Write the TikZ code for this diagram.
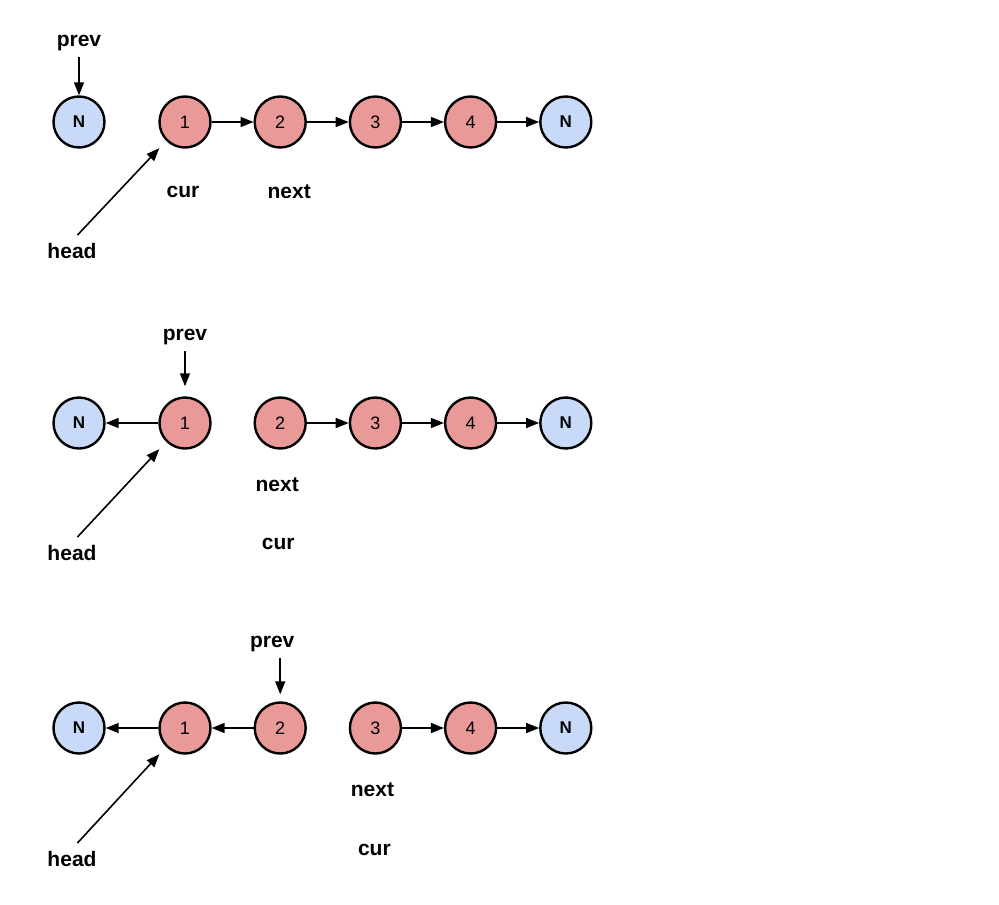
\documentclass[tikz,border=0pt]{standalone}
\usepackage{fontspec}
\setsansfont{Liberation Sans}
\usetikzlibrary{arrows.meta, positioning}

\definecolor{listred}{HTML}{EA9999}
\definecolor{nullblue}{HTML}{C9DAF8}

\begin{document}
\begin{tikzpicture}[
    x=0.5pt, y=-0.5pt,
    node distance=20.9pt,
    font=\sffamily,
    listnode/.style={circle, draw, line width=1.2pt, fill=listred, minimum size=25.5pt, inner sep=0pt, font=\sffamily\fontsize{9}{11}\selectfont},
    nullnode/.style={listnode, fill=nullblue, font=\sffamily\bfseries\fontsize{8.5}{10}\selectfont},
    lbl/.style={font=\sffamily\bfseries\fontsize{10.5}{12}\selectfont, inner sep=1pt},
    arrow/.style={-{Triangle[length=6.5pt, width=5pt]}, line width=0.8pt},
    ptr/.style={arrow, shorten <=2pt}
]
\useasboundingbox (0,0) rectangle (999,904);

% Step 0: initial list
\node (nullA) [nullnode] at (79,122) {N};
\node (a1) [listnode] at (185,122) {1};
\node (a2) [listnode, right=of a1] {2};
\node (a3) [listnode, right=of a2] {3};
\node (a4) [listnode, right=of a3] {4};
\node (nullB) [nullnode, right=of a4] {N};

\draw [arrow] (a1) -- (a2);
\draw [arrow] (a2) -- (a3);
\draw [arrow] (a3) -- (a4);
\draw [arrow] (a4) -- (nullB);

\node (prevA) [lbl] at (79,43) {prev};
\node (headA) [lbl] at (72,251) {head};
\node (curA) [lbl] at ([xshift=-1pt, yshift=-35pt]a1) {cur};
\node (nextA) [lbl] at ([xshift=4.5pt, yshift=-35pt]a2) {next};

\draw [ptr] (prevA) -- (nullA);
\draw [ptr, shorten <=4pt, shorten >=5pt] (headA.north) -- (a1.south west);

% Step 1: reverse first link
\node (nullC) [nullnode] at (79,423) {N};
\node (b1) [listnode] at (185,423) {1};
\node (b2) [listnode, right=of b1] {2};
\node (b3) [listnode, right=of b2] {3};
\node (b4) [listnode, right=of b3] {4};
\node (nullD) [nullnode, right=of b4] {N};

\draw [arrow] (b1) -- (nullC);
\draw [arrow] (b2) -- (b3);
\draw [arrow] (b3) -- (b4);
\draw [arrow] (b4) -- (nullD);

\node (prevB) [lbl] at ([yshift=43pt]b1) {prev};
\node (headB) [lbl] at (72,553) {head};
\node (nextB) [lbl] at ([xshift=-1.5pt, yshift=-31pt]b2) {next};
\node (curB) [lbl] at ([xshift=-1pt, yshift=-60.5pt]b2) {cur};

\draw [ptr, shorten >=5pt] (prevB) -- (b1);
\draw [ptr, shorten <=4pt, shorten >=5pt] (headB.north) -- (b1.south west);

% Step 2: reverse second link
\node (nullE) [nullnode] at (79,728) {N};
\node (c1) [listnode] at (185,728) {1};
\node (c2) [listnode, right=of c1] {2};
\node (c3) [listnode, right=of c2] {3};
\node (c4) [listnode, right=of c3] {4};
\node (nullF) [nullnode, right=of c4] {N};

\draw [arrow] (c1) -- (nullE);
\draw [arrow] (c2) -- (c1);
\draw [arrow] (c3) -- (c4);
\draw [arrow] (c4) -- (nullF);

\node (prevC) [lbl] at ([xshift=-4pt, yshift=42pt]c2) {prev};
\node (headC) [lbl] at (72,859) {head};
\node (nextC) [lbl] at ([xshift=-1.5pt, yshift=-31pt]c3) {next};
\node (curC) [lbl] at ([xshift=-0.5pt, yshift=-61pt]c3) {cur};

\draw [ptr, shorten >=3.5pt] (c2 |- prevC.south) -- (c2);
\draw [ptr, shorten <=4pt, shorten >=5pt] (headC.north) -- (c1.south west);

\end{tikzpicture}
\end{document}
